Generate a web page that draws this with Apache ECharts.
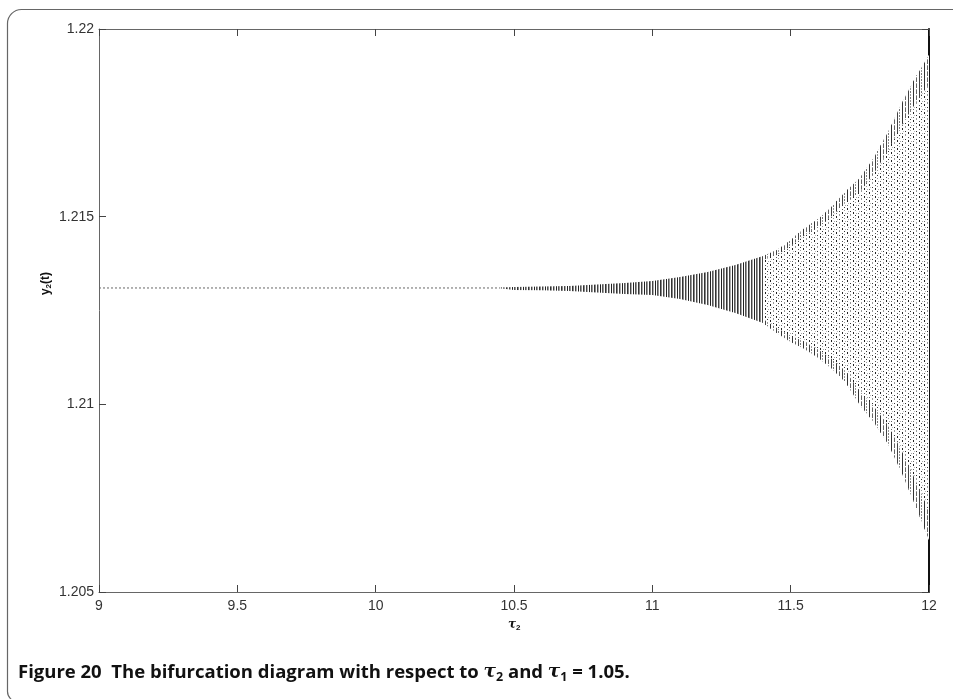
<!DOCTYPE html>
<html>
<head>
<meta charset="utf-8">
<script src="https://cdn.jsdelivr.net/npm/echarts@6/dist/echarts.min.js"></script>
<style>html,body{margin:0;padding:0;background:#fff}#c{width:953px;height:699px}</style>
</head>
<body>
<div id="c"></div>
<script>
// ---- data ----
const xTicks = [9, 9.5, 10, 10.5, 11, 11.5, 12];
const yTicks = [1.205, 1.21, 1.215, 1.22];
const steadyTau = [9, 9.5, 10, 10.45];
const steadyY = [1.21310, 1.21310, 1.21310, 1.21310];
const tauKnots = [10.45, 10.5, 10.6, 10.7, 10.8, 10.9, 11.0, 11.1, 11.2, 11.3, 11.4, 11.45, 11.5, 11.55, 11.6, 11.65, 11.7, 11.75, 11.8, 11.85, 11.9, 11.95, 12.0];
const upperEnv = [1.21311, 1.213126, 1.21314, 1.213153, 1.21319, 1.213233, 1.213286, 1.213393, 1.213526, 1.213712, 1.213952, 1.214112, 1.214378, 1.214698, 1.214938, 1.215284, 1.215684, 1.21603, 1.216563, 1.217229, 1.218002, 1.218694, 1.219307];
const lowerEnv = [1.21309, 1.213046, 1.21304, 1.21302, 1.21298, 1.21294, 1.212913, 1.212806, 1.212647, 1.212433, 1.212167, 1.2119, 1.211661, 1.211474, 1.211234, 1.210941, 1.210568, 1.209982, 1.209529, 1.20897, 1.208197, 1.207318, 1.206385];
const splitTau = 11.4;

// ---- texture patterns (styling only) ----
function makePattern(w, h, cells) {
  const cv = document.createElement('canvas');
  cv.width = w; cv.height = h;
  const ctx = cv.getContext('2d');
  ctx.fillStyle = '#fff'; ctx.fillRect(0, 0, w, h);
  cells.forEach(c => { ctx.fillStyle = c[3]; ctx.fillRect(c[0], c[1], 1, c[2]); });
  return { image: cv, repeat: 'repeat' };
}
const stripePat = makePattern(11, 1, [
  [0,0,1,'#333'],[1,0,1,'#888'],[3,0,1,'#444'],[4,0,1,'#aaa'],[6,0,1,'#222'],[8,0,1,'#555'],[9,0,1,'#999']
]);
const edgePat = makePattern(11, 6, [
  [0,0,6,'#333'],[3,0,4,'#666'],[3,5,1,'#999'],[6,0,6,'#444'],[8,1,2,'#777'],[8,4,2,'#999']
]);
const dotPat = makePattern(11, 8, [
  [0,0,2,'#222'],[0,5,1,'#666'],[3,3,1,'#333'],[3,6,2,'#999'],[6,1,1,'#555'],[6,4,2,'#222'],[8,2,1,'#999'],[8,7,1,'#333'],[9,5,1,'#aaa'],[1,3,1,'#bbb']
]);

function envPoints(api, fromTau, toTau) {
  const up = [], lo = [];
  for (let i = 0; i < tauKnots.length; i++) {
    const t = tauKnots[i];
    if (t < fromTau || t > toTau) continue;
    up.push(api.coord([t, upperEnv[i]]));
    lo.push(api.coord([t, lowerEnv[i]]));
  }
  return { up, lo };
}
function bandItem(fromTau, toTau, pattern, edgeFrac) {
  return function (params, api) {
    const e = envPoints(api, fromTau, toTau);
    const children = [{ type: 'polygon', shape: { points: e.up.concat(e.lo.slice().reverse()) }, style: { fill: pattern, stroke: null } }];
    if (edgeFrac) {
      const inUp = e.up.map((p, k) => [p[0], p[1] + edgeFrac * (e.lo[k][1] - p[1]) / 2]);
      const inLo = e.lo.map((p, k) => [p[0], p[1] - edgeFrac * (p[1] - e.up[k][1]) / 2]);
      children.push({ type: 'polygon', shape: { points: e.up.concat(inUp.slice().reverse()) }, style: { fill: edgePat, stroke: null } });
      children.push({ type: 'polygon', shape: { points: e.lo.concat(inLo.slice().reverse()) }, style: { fill: edgePat, stroke: null } });
    }
    return { type: 'group', children };
  };
}

const chart = echarts.init(document.getElementById('c'), null, { renderer: 'canvas' });
const axisLbl = { color: '#333', fontSize: 14, fontFamily: 'Liberation Sans' };
const option = {
  animation: false,
  backgroundColor: '#fff',
  grid: { left: 99, right: 24, top: 29, bottom: 107 },
  xAxis: [
    { type: 'value', min: xTicks[0], max: xTicks[xTicks.length - 1], interval: xTicks[1] - xTicks[0],
      axisLine: { onZero: false, lineStyle: { color: '#666', width: 1 } },
      axisTick: { inside: true, length: 7, lineStyle: { color: '#444' } },
      axisLabel: Object.assign({ margin: 7, formatter: v => String(+v.toFixed(3)) }, axisLbl),
      splitLine: { show: false } },
    { type: 'value', position: 'top', min: xTicks[0], max: xTicks[xTicks.length - 1], interval: xTicks[1] - xTicks[0],
      axisLine: { onZero: false, lineStyle: { color: '#666', width: 1 } },
      axisTick: { inside: true, length: 7, lineStyle: { color: '#444' } },
      axisLabel: { show: false }, splitLine: { show: false } }
  ],
  yAxis: [
    { type: 'value', min: yTicks[0], max: yTicks[yTicks.length - 1], interval: 0.005,
      axisLine: { show: true, onZero: false, lineStyle: { color: '#666', width: 1 } },
      axisTick: { show: true, inside: true, length: 7, lineStyle: { color: '#444' } },
      axisLabel: Object.assign({ margin: 5, formatter: v => String(+v.toFixed(4)) }, axisLbl),
      splitLine: { show: false } },
    { type: 'value', position: 'right', min: yTicks[0], max: yTicks[yTicks.length - 1], interval: 0.005,
      axisLine: { show: true, onZero: false, lineStyle: { color: '#111', width: 2 } },
      axisTick: { show: true, inside: true, length: 7, lineStyle: { color: '#444' } },
      axisLabel: { show: false }, splitLine: { show: false } }
  ],
  series: [
    { type: 'line', data: steadyTau.map((t, i) => [t, steadyY[i]]), symbol: 'none',
      lineStyle: { color: '#666', width: 1, type: [2, 2] } },
    { type: 'custom', data: [[splitTau, 0]], renderItem: bandItem(tauKnots[0], splitTau, stripePat, 0), silent: true },
    { type: 'custom', data: [[splitTau, 0]], renderItem: bandItem(splitTau, 12, dotPat, 0.12), silent: true }
  ],
  graphic: [
    { type: 'rect', left: 5, top: 7, z: 100, shape: { x: 0, y: 0, width: 980, height: 692, r: [14, 0, 0, 10] },
      style: { fill: null, stroke: '#666', lineWidth: 1.2 } },
    { type: 'text', left: 40, top: 272, rotation: Math.PI / 2, z: 100,
      style: { rich: {
        a: { fontFamily: 'Liberation Sans', fontWeight: 'bold', fontSize: 12, fill: '#111' },
        s: { fontFamily: 'Liberation Sans', fontWeight: 'bold', fontSize: 8, fill: '#111', padding: [6, 0, 0, 0] } },
        text: '{a|y}{s|2}{a|(t)}' } },
    { type: 'text', left: 508, top: 619, z: 100,
      style: { rich: {
        a: { fontFamily: 'DejaVu Serif', fontStyle: 'italic', fontWeight: 'bold', fontSize: 12, fill: '#111' },
        s: { fontFamily: 'Liberation Sans', fontWeight: 'bold', fontSize: 8, fill: '#111', padding: [6, 0, 0, 0] } },
        text: '{a|τ}{s|2}' } },
    { type: 'text', left: 18, top: 663, z: 100,
      style: { rich: {
        b: { fontFamily: 'Open Sans', fontWeight: 'bold', fontSize: 18.5, fill: '#111' },
        i: { fontFamily: 'DejaVu Serif', fontStyle: 'italic', fontWeight: 'bold', fontSize: 18.5, fill: '#111' },
        s: { fontFamily: 'Open Sans', fontWeight: 'bold', fontSize: 12.5, fill: '#111', padding: [9, 0, 0, 0] } },
        text: '{b|Figure 20  The bifurcation diagram with respect to }{i|τ}{s|2}{b| and }{i|τ}{s|1}{b| = 1.05.}' } }
  ]
};
chart.setOption(option);
</script>
</body>
</html>
